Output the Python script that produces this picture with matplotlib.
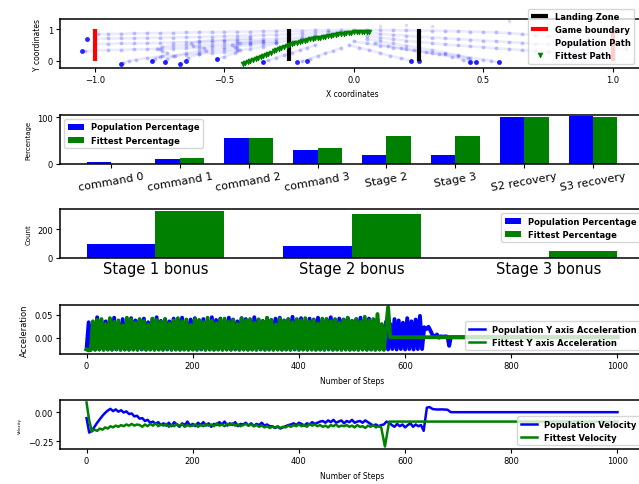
import numpy as np
import matplotlib.pyplot as plt

plt.rcParams['path.simplify'] = False

# ---------------- data ----------------
# top plot: landing zone / boundaries
landing_zone_x = [-0.25, 0.25]
boundary_x = [-1.0, 1.0]
marker_y0, marker_y1 = 0.0, 1.0

# population trajectories (each entry is one rocket)
pop_x = [
    [0.00, -0.05, -0.10, -0.15, -0.20, -0.25, -0.30, -0.35, -0.40, -0.45, -0.50, -0.55, -0.60, -0.65, -0.70, -0.75, -0.80, -0.85, -0.90, -0.95, -0.99],
    [-0.05, -0.10, -0.15, -0.20, -0.25, -0.30, -0.35, -0.40, -0.45, -0.50, -0.55, -0.60, -0.65, -0.70, -0.75, -0.80, -0.85, -0.90, -0.95, -1.00],
    [-0.15, -0.20, -0.25, -0.30, -0.35, -0.40, -0.45, -0.50, -0.55, -0.60, -0.65, -0.70, -0.75, -0.80, -0.85, -0.90, -0.95, -1.00],
    [-0.20, -0.25, -0.30, -0.35, -0.40, -0.45, -0.50, -0.55, -0.60, -0.65, -0.70, -0.75, -0.80, -0.85, -0.90, -0.95, -1.00, -1.04],
    [-0.30, -0.35, -0.40, -0.45, -0.50, -0.55, -0.60, -0.65, -0.70, -0.75, -0.80, -0.84, -0.87, -0.89, -0.90],
    [-0.35, -0.40, -0.45, -0.50, -0.55, -0.60, -0.65, -0.70, -0.74, -0.76, -0.74, -0.72, -0.74, -0.77, -0.78],
    [-0.40, -0.45, -0.50, -0.55, -0.60, -0.63, -0.62, -0.58, -0.57, -0.60, -0.64, -0.67],
    [-0.30, -0.35, -0.40, -0.44, -0.47, -0.46, -0.44, -0.46, -0.50, -0.53],
    [-0.15, -0.18, -0.21, -0.24, -0.27, -0.30, -0.33, -0.35],
    [-0.05, -0.08, -0.11, -0.14, -0.17, -0.20],
    [-0.45, -0.50, -0.55, -0.60, -0.65, -0.69, -0.72, -0.73],
    [0.05, 0.10, 0.15, 0.20, 0.25, 0.30, 0.35, 0.40, 0.45, 0.50, 0.55, 0.60, 0.65, 0.70, 0.75, 0.80, 0.85, 0.90, 0.95, 1.00],
    [0.05, 0.10, 0.15, 0.20, 0.25, 0.30, 0.35, 0.40, 0.45, 0.50, 0.55, 0.60, 0.65, 0.70, 0.75, 0.80, 0.85, 0.90, 0.95, 1.00, 1.05],
    [0.05, 0.10, 0.15, 0.20, 0.25, 0.30, 0.35, 0.40, 0.45, 0.50, 0.55, 0.60, 0.65, 0.70, 0.75, 0.80, 0.85, 0.90, 0.95, 1.00],
    [0.00, 0.05, 0.10, 0.15, 0.20, 0.25, 0.30, 0.35, 0.40, 0.45, 0.50, 0.53, 0.56],
    [-0.02, 0.02, 0.06, 0.10, 0.14, 0.18, 0.22],
    [0.05, 0.10, 0.15, 0.20, 0.25, 0.30, 0.35, 0.40, 0.44, 0.47],
    [0.08, 0.13, 0.18, 0.23, 0.28, 0.33, 0.38, 0.42, 0.45],
]
pop_y = [
    [0.99, 0.98, 0.97, 0.97, 0.96, 0.95, 0.95, 0.94, 0.93, 0.93, 0.92, 0.91, 0.91, 0.90, 0.89, 0.88, 0.88, 0.87, 0.86, 0.85, 0.85],
    [0.93, 0.90, 0.88, 0.86, 0.84, 0.83, 0.82, 0.80, 0.79, 0.78, 0.77, 0.76, 0.75, 0.74, 0.74, 0.73, 0.72, 0.72, 0.71, 0.70],
    [0.80, 0.76, 0.72, 0.70, 0.68, 0.66, 0.64, 0.63, 0.61, 0.60, 0.59, 0.58, 0.57, 0.56, 0.55, 0.55, 0.54, 0.53],
    [0.70, 0.64, 0.58, 0.54, 0.50, 0.47, 0.45, 0.43, 0.41, 0.40, 0.39, 0.38, 0.37, 0.36, 0.35, 0.34, 0.33, 0.30],
    [0.55, 0.45, 0.38, 0.32, 0.28, 0.25, 0.22, 0.19, 0.16, 0.13, 0.09, 0.04, -0.01, -0.06, -0.10],
    [0.62, 0.58, 0.55, 0.53, 0.51, 0.50, 0.49, 0.48, 0.45, 0.38, 0.32, 0.24, 0.15, 0.07, 0.00],
    [0.72, 0.69, 0.67, 0.65, 0.62, 0.55, 0.47, 0.40, 0.32, 0.22, 0.08, -0.10],
    [0.62, 0.60, 0.58, 0.55, 0.50, 0.43, 0.35, 0.25, 0.13, 0.05],
    [0.50, 0.42, 0.34, 0.26, 0.18, 0.10, 0.02, -0.05],
    [0.40, 0.32, 0.24, 0.15, 0.06, -0.02],
    [0.38, 0.36, 0.34, 0.30, 0.24, 0.16, 0.06, -0.03],
    [0.98, 0.98, 0.97, 0.97, 0.96, 0.96, 0.95, 0.94, 0.93, 0.92, 0.90, 0.88, 0.85, 0.82, 0.79, 0.76, 0.73, 0.70, 0.67, 0.64],
    [0.90, 0.86, 0.83, 0.80, 0.77, 0.74, 0.72, 0.69, 0.67, 0.64, 0.62, 0.59, 0.57, 0.54, 0.52, 0.49, 0.47, 0.44, 0.42, 0.39, 0.37],
    [0.80, 0.74, 0.69, 0.64, 0.60, 0.56, 0.52, 0.49, 0.46, 0.43, 0.40, 0.37, 0.34, 0.32, 0.29, 0.27, 0.25, 0.23, 0.21, 0.19],
    [0.62, 0.55, 0.48, 0.42, 0.36, 0.30, 0.25, 0.20, 0.15, 0.10, 0.04, 0.00, -0.05],
    [0.50, 0.42, 0.34, 0.25, 0.16, 0.08, 0.00],
    [0.70, 0.62, 0.55, 0.48, 0.41, 0.34, 0.26, 0.18, 0.08, -0.05],
    [0.55, 0.48, 0.41, 0.34, 0.27, 0.20, 0.12, 0.04, -0.05],
]
# a few stray points above the main cloud
stray_x = [0.10, 0.20, 0.30, 0.60, 0.75, 0.95, 1.00]
stray_y = [1.10, 1.15, 1.12, 1.25, 1.18, 1.22, 1.28]
# where the rockets came to rest
land_x = [-1.05, -1.03, -0.90, -0.78, -0.73, -0.67, -0.65, -0.53, -0.35, -0.22, -0.18, 0.22, 0.25, 0.45, 0.47, 0.56]
land_y = [0.30, 0.70, -0.10, 0.00, -0.03, -0.10, 0.00, 0.05, -0.05, -0.03, 0.00, 0.00, 0.00, -0.05, -0.05, -0.05]

fit_x = [0.06, 0.05, 0.04, 0.03, 0.02, 0.01, 0.00, -0.01, -0.02, -0.03,
         -0.04, -0.05, -0.06, -0.07, -0.08, -0.09, -0.10, -0.11, -0.12, -0.13,
         -0.14, -0.15, -0.16, -0.17, -0.18, -0.19, -0.20, -0.21, -0.22, -0.23,
         -0.24, -0.25, -0.26, -0.27, -0.28, -0.29, -0.30, -0.31, -0.32, -0.33,
         -0.34, -0.35, -0.36, -0.37, -0.38, -0.39, -0.40, -0.41, -0.42, -0.43]
fit_y = [0.91, 0.91, 0.91, 0.91, 0.91, 0.90, 0.90, 0.89, 0.88, 0.87,
         0.86, 0.85, 0.84, 0.82, 0.81, 0.80, 0.79, 0.77, 0.76, 0.74,
         0.73, 0.71, 0.70, 0.68, 0.66, 0.64, 0.62, 0.60, 0.57, 0.55,
         0.52, 0.50, 0.47, 0.44, 0.41, 0.38, 0.34, 0.30, 0.26, 0.22,
         0.18, 0.14, 0.11, 0.08, 0.05, 0.02, 0.00, -0.03, -0.06, -0.10]

# command / stage percentages
cmd_labels = ['command 0', 'command 1', 'command 2', 'command 3', 'Stage 2', 'Stage 3', 'S2 recovery', 'S3 recovery']
cmd_pop = [3.5, 10, 56, 30, 19, 19, 100, 103]
cmd_fit = [0, 13, 56, 34, 59, 59, 100, 100]

# stage bonuses
bonus_labels = ['Stage 1 bonus', 'Stage 2 bonus', 'Stage 3 bonus']
bonus_pop = [97, 83, 0]
bonus_fit = [322, 306, 48]

# Y axis acceleration, one value every 4 steps
acc_pop = [
    -0.025, 0.034, -0.026, 0.031, -0.025, 0.045, -0.026, 0.038, -0.025, 0.036,
    -0.026, 0.040, -0.025, 0.044, -0.026, 0.033, -0.025, 0.041, -0.026, 0.035,
    -0.025, 0.043, -0.026, 0.038, -0.025, 0.039, -0.026, 0.042, -0.025, 0.034,
    -0.026, 0.040, -0.025, 0.045, -0.026, 0.037, -0.025, 0.041, -0.026, 0.036,
    -0.025, 0.042, -0.026, 0.039, -0.025, 0.044, -0.026, 0.035, -0.025, 0.040,
    -0.026, 0.043, -0.025, 0.038, -0.026, 0.041, -0.025, 0.036, -0.026, 0.045,
    -0.025, 0.039, -0.026, 0.042, -0.025, 0.037, -0.026, 0.044, -0.025, 0.040,
    -0.026, 0.036, -0.025, 0.043, -0.026, 0.041, -0.025, 0.038, -0.026, 0.045,
    -0.025, 0.040, -0.026, 0.037, -0.025, 0.043, -0.026, 0.039, -0.025, 0.042,
    -0.026, 0.044, -0.025, 0.038, -0.026, 0.041, -0.025, 0.046, -0.026, 0.039,
    -0.025, 0.043, -0.026, 0.037, -0.025, 0.042, -0.026, 0.040, -0.025, 0.044,
    -0.026, 0.038, -0.025, 0.041, -0.026, 0.045, -0.025, 0.039, -0.026, 0.042,
    -0.025, 0.040, -0.026, 0.043, -0.025, 0.037, -0.026, 0.041, -0.025, 0.044,
    -0.026, 0.039, -0.025, 0.042, -0.026, 0.036, -0.025, 0.040, -0.026, 0.027,
    -0.025, 0.035, -0.026, 0.030, -0.025, 0.041, -0.026, 0.038, -0.025, 0.033,
    -0.026, 0.043, -0.025, 0.036, -0.026, 0.040, -0.025, 0.048,
]
acc_pop_tail_x = [632, 636, 640, 644, 648, 652, 656, 660, 664, 668, 672, 676, 680, 683, 686, 1000]
acc_pop_tail_y = [-0.025, 0.023, 0.019, 0.024, 0.015, 0.005, 0.002, 0.007, 0.000, 0.003, 0.002, 0.003, 0.002, -0.018, 0.001, 0.001]

acc_fit = [
    -0.026, -0.028, -0.027, 0.036, -0.027, 0.039, -0.026, 0.041, -0.027, 0.030,
    -0.026, 0.043, -0.027, 0.035, -0.025, 0.038, -0.027, 0.027, -0.026, 0.044,
    -0.027, 0.040, -0.026, 0.033, -0.027, 0.041, -0.025, 0.037, -0.027, 0.029,
    -0.026, 0.042, -0.027, 0.039, -0.026, 0.035, -0.027, 0.040, -0.025, 0.031,
    -0.027, 0.038, -0.026, 0.043, -0.027, 0.036, -0.026, 0.040, -0.027, 0.028,
    -0.026, 0.041, -0.027, 0.039, -0.025, 0.034, -0.027, 0.044, -0.026, 0.037,
    -0.027, 0.032, -0.026, 0.040, -0.027, 0.042, -0.026, 0.035, -0.027, 0.039,
    -0.025, 0.030, -0.027, 0.043, -0.026, 0.038, -0.027, 0.041, -0.026, 0.033,
    -0.027, 0.040, -0.025, 0.036, -0.027, 0.044, -0.026, 0.039, -0.027, 0.029,
    -0.026, 0.042, -0.027, 0.037, -0.026, 0.040, -0.027, 0.034, -0.025, 0.041,
    -0.027, 0.038, -0.026, 0.043, -0.027, 0.035, -0.026, 0.039, -0.027, 0.031,
    -0.026, 0.042, -0.027, 0.040, -0.025, 0.036, -0.027, 0.041, -0.026, 0.033,
    -0.027, 0.039, -0.026, 0.044, -0.027, 0.037, -0.026, 0.040, -0.027, 0.035,
    -0.026, 0.046, -0.027, 0.038, -0.026, 0.041, -0.027, 0.052, -0.026, 0.030,
]
acc_fit_tail_x = [560, 564, 568, 572, 1000]
acc_fit_tail_y = [-0.027, 0.020, 0.067, 0.001, 0.001]

# velocity, one value every 5 steps
vel_pop = [
    -0.050, -0.175, -0.160, -0.125, -0.090, -0.060, -0.030, -0.005, 0.015, 0.030,
    0.010, 0.025, 0.005, 0.018, -0.002, 0.008, -0.015, -0.010, -0.035, -0.030,
    -0.055, -0.050, -0.075, -0.065, -0.090, -0.080, -0.100, -0.085, -0.110, -0.095,
    -0.115, -0.090, -0.120, -0.085, -0.105, -0.125, -0.095, -0.110, -0.080, -0.115,
    -0.100, -0.120, -0.090, -0.110, -0.085, -0.115, -0.095, -0.125, -0.100, -0.110,
    -0.085, -0.105, -0.080, -0.115, -0.095, -0.110, -0.085, -0.120, -0.100, -0.105,
    -0.090, -0.115, -0.095, -0.120, -0.100, -0.110, -0.090, -0.115, -0.105, -0.120,
    -0.120, -0.135, -0.125, -0.140, -0.130, -0.120, -0.110,
    -0.105, -0.095, -0.110, -0.090, -0.100, -0.115, -0.095, -0.105, -0.085, -0.100, -0.090, -0.080,
    -0.075, -0.090, -0.070, -0.085, -0.065, -0.090, -0.080, -0.070, -0.095, -0.075,
    -0.085, -0.065, -0.090, -0.080, -0.075, -0.090, -0.070, -0.085,
    -0.100, -0.115, -0.105, -0.120, -0.110, -0.105,
    -0.080, -0.090,
    -0.110, -0.125, -0.100, -0.120, -0.105, -0.130, -0.110, -0.095, -0.125, -0.105, -0.120, -0.110, -0.160,
]
vel_pop_tail_x = [641, 646, 652, 660, 670, 680, 686, 1000]
vel_pop_tail_y = [0.040, 0.045, 0.028, 0.024, 0.025, 0.022, 0.001, 0.001]

vel_fit = [
    0.085, -0.070, -0.165, -0.150, -0.160, -0.140, -0.150, -0.130, -0.140, -0.120,
    -0.130, -0.115, -0.125, -0.110, -0.120, -0.105, -0.115, -0.100, -0.115, -0.105,
    -0.110, -0.125, -0.105, -0.120, -0.100, -0.115, -0.095, -0.120, -0.105, -0.115,
    -0.100, -0.125, -0.110, -0.120, -0.100, -0.115, -0.105, -0.125, -0.110, -0.120,
    -0.115, -0.105, -0.125, -0.110, -0.120, -0.100, -0.115, -0.105, -0.120, -0.095,
    -0.115, -0.105, -0.120, -0.100, -0.110, -0.095, -0.115, -0.105, -0.120, -0.110,
    -0.100, -0.115, -0.105, -0.120, -0.110, -0.125, -0.115, -0.130, -0.120, -0.135,
    -0.125, -0.130, -0.120, -0.135, -0.125, -0.130, -0.115, -0.125, -0.110, -0.120,
    -0.105, -0.120, -0.110, -0.125, -0.100, -0.115, -0.105, -0.120, -0.110, -0.125,
    -0.115, -0.130, -0.110, -0.120, -0.105, -0.125, -0.115, -0.120, -0.110, -0.125,
    -0.115, -0.130, -0.110, -0.125, -0.120, -0.135, -0.115, -0.125, -0.110, -0.130,
    -0.120, -0.130,
]
vel_fit_tail_x = [562, 570, 1000]
vel_fit_tail_y = [-0.295, -0.080, -0.080]

# ---------------- plotting ----------------
W, H = 639, 485
fig = plt.figure(figsize=(W / 100, H / 100), dpi=100)


def axes_px(top, bottom, left=60, right=644):
    # place an axes using pixel edges of the reference image
    return fig.add_axes([left / W, 1 - bottom / H, (right - left) / W, (bottom - top) / H])


def style(ax):
    ax.tick_params(labelsize=6, length=3, width=0.8, pad=2)
    for s in ax.spines.values():
        s.set_linewidth(1.1)


leg_font = {'weight': 'bold', 'size': 6}

# 1) paths
ax1 = axes_px(20.3, 69)
ax1.vlines(landing_zone_x, marker_y0, marker_y1, colors='black', linewidth=3, label='Landing Zone', zorder=3)
ax1.vlines(boundary_x, marker_y0, marker_y1, colors='red', linewidth=3, label='Game boundary', zorder=3)
for xs, ys in zip(pop_x, pop_y):
    ax1.plot(xs, ys, '-', color='blue', alpha=0.08, linewidth=2)
    ax1.plot(xs, ys, 'o', color='blue', alpha=0.22, markersize=2.8, markeredgewidth=0)
ax1.plot(stray_x, stray_y, 'o', color='blue', alpha=0.15, markersize=2.5, markeredgewidth=0)
ax1.plot(land_x, land_y, 'o', color='blue', alpha=0.85, markersize=3.5, markeredgewidth=0)
ax1.plot([], [], ls='none', label='Population Path')
ax1.plot(fit_x, fit_y, 'v', color='green', markersize=3.5, markeredgewidth=0.5, label='Fittest Path', zorder=4)
ax1.set_xlim(-1.135, 1.12)
ax1.set_ylim(-0.23, 1.32)
ax1.set_yticks([0, 1])
ax1.set_xticks([-1.0, -0.5, 0.0, 0.5, 1.0])
ax1.set_xlabel('X coordinates', fontsize=5.5)
ax1.set_ylabel('Y coordinates', fontsize=5.5)
style(ax1)
ax1.legend(prop=leg_font, loc='upper right', bbox_to_anchor=(634 / W, 1 - 9.5 / H),
           bbox_transform=fig.transFigure, borderaxespad=0)

# 2) command percentages
ax2 = axes_px(116, 164.7)
pos = np.arange(len(cmd_labels))
bw = 0.35
ax2.bar(pos - bw / 2, cmd_pop, bw, color='blue', label='Population Percentage')
ax2.bar(pos + bw / 2, cmd_fit, bw, color='green', label='Fittest Percentage')
ax2.set_ylim(0, 105)
ax2.set_yticks([0, 100])
ax2.set_xticks(pos)
ax2.set_xticklabels(cmd_labels, rotation=10, fontsize=8)
ax2.set_ylabel('Percentage', fontsize=5)
style(ax2)
ax2.tick_params(axis='x', labelsize=8)
ax2.legend(prop=leg_font, loc='upper left')

# 3) stage bonus counts
ax3 = axes_px(210, 259)
pos3 = np.arange(len(bonus_labels))
ax3.bar(pos3 - bw / 2, bonus_pop, bw, color='blue', label='Population Percentage')
ax3.bar(pos3 + bw / 2, bonus_fit, bw, color='green', label='Fittest Percentage')
ax3.set_yticks([0, 200])
ax3.set_xticks(pos3)
ax3.set_xticklabels(bonus_labels)
ax3.set_ylabel('Count', fontsize=5)
style(ax3)
ax3.tick_params(axis='x', labelsize=10.5, length=0)
ax3.legend(prop=leg_font, loc='upper right')

# 4) acceleration
ax4 = axes_px(306, 355.3)
acc_pop_x = np.concatenate([np.arange(0, 4 * len(acc_pop), 4), acc_pop_tail_x])
acc_fit_x = np.concatenate([np.arange(0, 4 * len(acc_fit), 4), acc_fit_tail_x])
ax4.plot(acc_pop_x, acc_pop + acc_pop_tail_y, color='blue', linewidth=2.8, label='Population Y axis Acceleration')
ax4.plot(acc_fit_x, acc_fit + acc_fit_tail_y, color='green', linewidth=2.8, label='Fittest Y axis Acceleration')
ax4.set_ylim(-0.0366, 0.072)
ax4.set_yticks([0.0, 0.05])
ax4.set_xticks([0, 200, 400, 600, 800, 1000])
ax4.set_xlabel('Number of Steps', fontsize=5.5)
ax4.set_ylabel('Acceleration', fontsize=6)
style(ax4)
leg4 = ax4.legend(prop=leg_font, loc='lower right')
for h in leg4.legend_handles:
    h.set_linewidth(1.8)

# 5) velocity
ax5 = axes_px(401, 450.3)
vel_pop_x = np.concatenate([np.arange(0, 5 * len(vel_pop), 5), vel_pop_tail_x])
vel_fit_x = np.concatenate([np.arange(0, 5 * len(vel_fit), 5), vel_fit_tail_x])
ax5.plot(vel_pop_x, vel_pop + vel_pop_tail_y, color='blue', linewidth=1.8, label='Population Velocity')
ax5.plot(vel_fit_x, vel_fit + vel_fit_tail_y, color='green', linewidth=1.8, label='Fittest Velocity')
ax5.set_ylim(-0.319, 0.106)
ax5.set_yticks([-0.25, 0.0])
ax5.set_xticks([0, 200, 400, 600, 800, 1000])
ax5.set_xlabel('Number of Steps', fontsize=5.5)
ax5.set_ylabel('Velocity', fontsize=3)
style(ax5)
leg5 = ax5.legend(prop=leg_font, loc='lower right')
for h in leg5.legend_handles:
    h.set_linewidth(1.8)

fig.savefig('out.png', dpi=100)
